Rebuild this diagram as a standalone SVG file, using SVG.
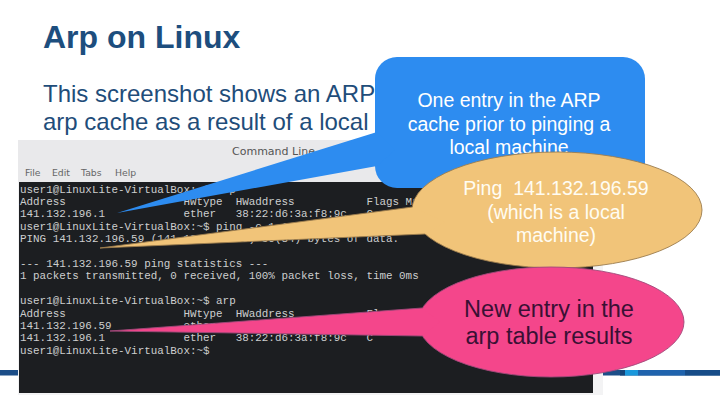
<svg xmlns="http://www.w3.org/2000/svg" width="720" height="405" viewBox="0 0 720 405">
<style>
.title{font-family:"Liberation Sans",Arial,sans-serif;font-weight:bold;font-size:32px;fill:#1d4e7e}
.body{font-family:"Liberation Sans",Arial,sans-serif;font-size:24px;fill:#1f4d7a}
.term{font-family:"Liberation Mono","DejaVu Sans Mono",monospace;font-size:10.9px;fill:#cdcecf;white-space:pre}
.menu{font-family:"DejaVu Sans","Liberation Sans",sans-serif;font-size:9.3px;fill:#666}
.wtitle{font-family:"DejaVu Sans","Liberation Sans",sans-serif;font-size:11px;fill:#555}
.ctext{font-family:"Liberation Sans",Arial,sans-serif;text-anchor:middle;white-space:pre}
.edge{fill:none;stroke-width:0.9}
</style>
<rect width="720" height="405" fill="#ffffff"/>
<g id="footer-bar">
<rect x="0" y="370" width="720" height="5.5" fill="#1c4e88"/>
<rect x="620" y="370" width="5" height="5.5" fill="#15457a"/>
<rect x="625" y="370" width="13" height="5.5" fill="#1a98dc"/>
<rect x="638" y="370" width="47" height="5.5" fill="#1f63ad"/>
<rect x="685" y="370" width="35" height="5.5" fill="#174c88"/>
</g>
<g id="title"><text class="title" x="43" y="48">Arp on Linux</text></g>
<g id="body-text">
<text class="body" x="43" y="102">This screenshot shows an ARP</text>
<text class="body" x="43" y="130">arp cache as a result of a local</text>
</g>
<g id="screenshot">
<rect x="18" y="140" width="585" height="255" fill="#f3f3f4"/>
<rect x="18" y="140" width="585" height="42" fill="#e9e9eb"/>
<text class="wtitle" x="232" y="155">Command Line</text>
<text class="menu" x="25" y="176">File</text>
<text class="menu" x="52" y="176">Edit</text>
<text class="menu" x="81" y="176">Tabs</text>
<text class="menu" x="115" y="176">Help</text>
<rect x="19" y="182" width="574" height="211" fill="#1c1e21"/>
<text class="term" xml:space="preserve" x="20" y="192.5">user1@LinuxLite-VirtualBox:~$ arp</text>
<text class="term" xml:space="preserve" x="20" y="204.9">Address                  HWtype  HWaddress           Flags Mask</text>
<text class="term" xml:space="preserve" x="20" y="217.3">141.132.196.1            ether   38:22:d6:3a:f8:9c   C</text>
<text class="term" xml:space="preserve" x="20" y="229.7">user1@LinuxLite-VirtualBox:~$ ping -c 1 141.132.196.59</text>
<text class="term" xml:space="preserve" x="20" y="242.1">PING 141.132.196.59 (141.132.196.59) 56(84) bytes of data.</text>
<text class="term" xml:space="preserve" x="20" y="266.9">--- 141.132.196.59 ping statistics ---</text>
<text class="term" xml:space="preserve" x="20" y="279.3">1 packets transmitted, 0 received, 100% packet loss, time 0ms</text>
<text class="term" xml:space="preserve" x="20" y="304.1">user1@LinuxLite-VirtualBox:~$ arp</text>
<text class="term" xml:space="preserve" x="20" y="316.5">Address                  HWtype  HWaddress           Flags Mask</text>
<text class="term" xml:space="preserve" x="20" y="328.9">141.132.196.59           ether</text>
<text class="term" xml:space="preserve" x="20" y="341.3">141.132.196.1            ether   38:22:d6:3a:f8:9c   C</text>
<text class="term" xml:space="preserve" x="20" y="353.7">user1@LinuxLite-VirtualBox:~$</text>
</g>
<g id="callout-arp-entry">
<rect x="375" y="57" width="270" height="131" rx="22" ry="22" fill="#2d8cf0"/>
<text class="ctext" x="509" y="107.3" font-size="19.5" fill="#ffffff">One entry in the ARP</text>
<text class="ctext" x="509" y="130.5" font-size="19.5" fill="#ffffff">cache prior to pinging a</text>
<text class="ctext" x="509" y="153.7" font-size="19.5" fill="#ffffff">local machine</text>
</g>
<g id="callout-ping">
<ellipse cx="557" cy="210" rx="145" ry="58" fill="#f1c479" stroke="#9c7d4e" stroke-width="0.9"/>
<text class="ctext" xml:space="preserve" x="556" y="195" font-size="19.5" fill="#fffcf2">Ping  141.132.196.59</text>
<text class="ctext" x="556" y="218.5" font-size="19.5" fill="#fffcf2">(which is a local</text>
<text class="ctext" x="556" y="242" font-size="19.5" fill="#fffcf2">machine)</text>
</g>
<g id="callout-new-entry">
<ellipse cx="551" cy="322" rx="133" ry="55" fill="#f4468b" stroke="#a04a7a" stroke-width="0.9"/>
<text class="ctext" x="549" y="317" font-size="23.5" fill="#3a1034">New entry in the</text>
<text class="ctext" x="549" y="344" font-size="23.5" fill="#3a1034">arp table results</text>
</g>
<g id="connectors">
<polygon points="117,213 377,132 395,150 377,166" fill="#2d8cf0"/>
<polygon points="412.5,207 100,248 425,234 445,222" fill="#f1c479"/>
<polyline class="edge" points="412.5,207 100,248 425,234" stroke="#9c7d4e"/>
<polygon points="422,308 110,331 422,336 440,322" fill="#f4468b"/>
<polyline class="edge" points="422,308 110,331 422,336" stroke="#a04a7a"/>
</g>
</svg>
